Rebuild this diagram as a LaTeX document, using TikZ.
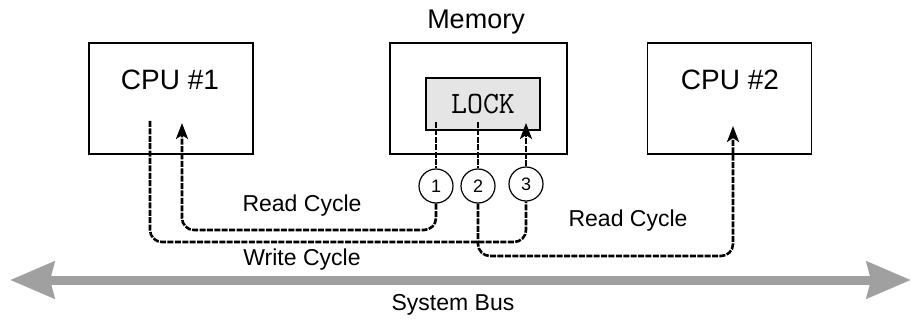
\documentclass[tikz,border=0pt]{standalone}
\usepackage{fontspec}
\setmainfont{Liberation Sans}
\usetikzlibrary{arrows.meta}
\definecolor{busgray}{RGB}{160,160,160}
\tikzset{
  unit/.style={draw, line width=0.9pt, minimum width=82pt, minimum height=55.5pt},
  lockbox/.style={draw, line width=0.9pt, fill=black!10, minimum width=57pt, minimum height=26pt, font=\ttfamily\fontsize{15.5}{17}\selectfont},
  num/.style={draw, circle, line width=0.6pt, minimum size=17pt, inner sep=0pt, font=\fontsize{9}{10}\selectfont},
  xfer/.style={line width=1.3pt, dash pattern=on 3pt off 0.7pt, rounded corners=6pt},
  tip/.style={-{Stealth[length=8pt, width=6pt, inset=2pt]}},
  bus/.style={draw=busgray, line width=4.5pt, {Stealth[length=22pt, width=18pt, inset=2pt]}-{Stealth[length=22pt, width=18pt, inset=2pt]}},
  big/.style={font=\fontsize{14}{16}\selectfont},
  lbl/.style={font=\fontsize{11.5}{13}\selectfont}
}
\begin{document}
\begin{tikzpicture}[x=0.5pt, y=-0.5pt]
  \useasboundingbox (0,0) rectangle (913,320);
  \node[unit] (cpua) at (171,98.5) {};
  \node[unit, minimum width=88.5pt] (mem) at (478.5,98.5) {};
  \node[unit] (cpub) at (729.5,98.5) {};
  \node[lockbox] (lock) at (483,104) {LOCK};
  \node[big] (cpuatxt) at (170,80) {CPU \#1};
  \node[big] (cpubtxt) at (730,80) {CPU \#2};
  \node[big, font=\fontsize{13.5}{15}\selectfont] (memtxt) at (476,22) {Memory};
  \node[num] (c1) at (436,186) {1};
  \node[num] (c2) at (478,186) {2};
  \node[num] (c3) at (526,184) {3};
  \coordinate (lk1) at (436,122);
  \coordinate (lk2) at (478,122);
  \coordinate (lk3) at (526,123);
  \coordinate (ra) at (182,123);
  \coordinate (wa) at (150,121);
  \coordinate (rb) at (733,126);
  % cycles
  \draw[xfer] (lk1) -- (c1);
  \draw[xfer, tip] (c1) |- (182,230) -- (ra);
  \draw[xfer] (wa) |- (526,242) -- (c3);
  \draw[xfer, tip] (c3) -- (lk3);
  \draw[xfer] (lk2) -- (c2);
  \draw[xfer, tip] (c2) |- (733,256) -- (rb);
  \node[lbl] (rdl) at (302,206) {Read Cycle};
  \node[lbl] (wrl) at (302,260) {Write Cycle};
  \node[lbl] (rdr) at (628,221) {Read Cycle};
  % system bus
  \coordinate (busl) at (10,280);
  \coordinate (busr) at (911,280);
  \draw[bus] (busl) -- (busr);
  \node[lbl] (bustxt) at (453,305) {System Bus};
\end{tikzpicture}
\end{document}
